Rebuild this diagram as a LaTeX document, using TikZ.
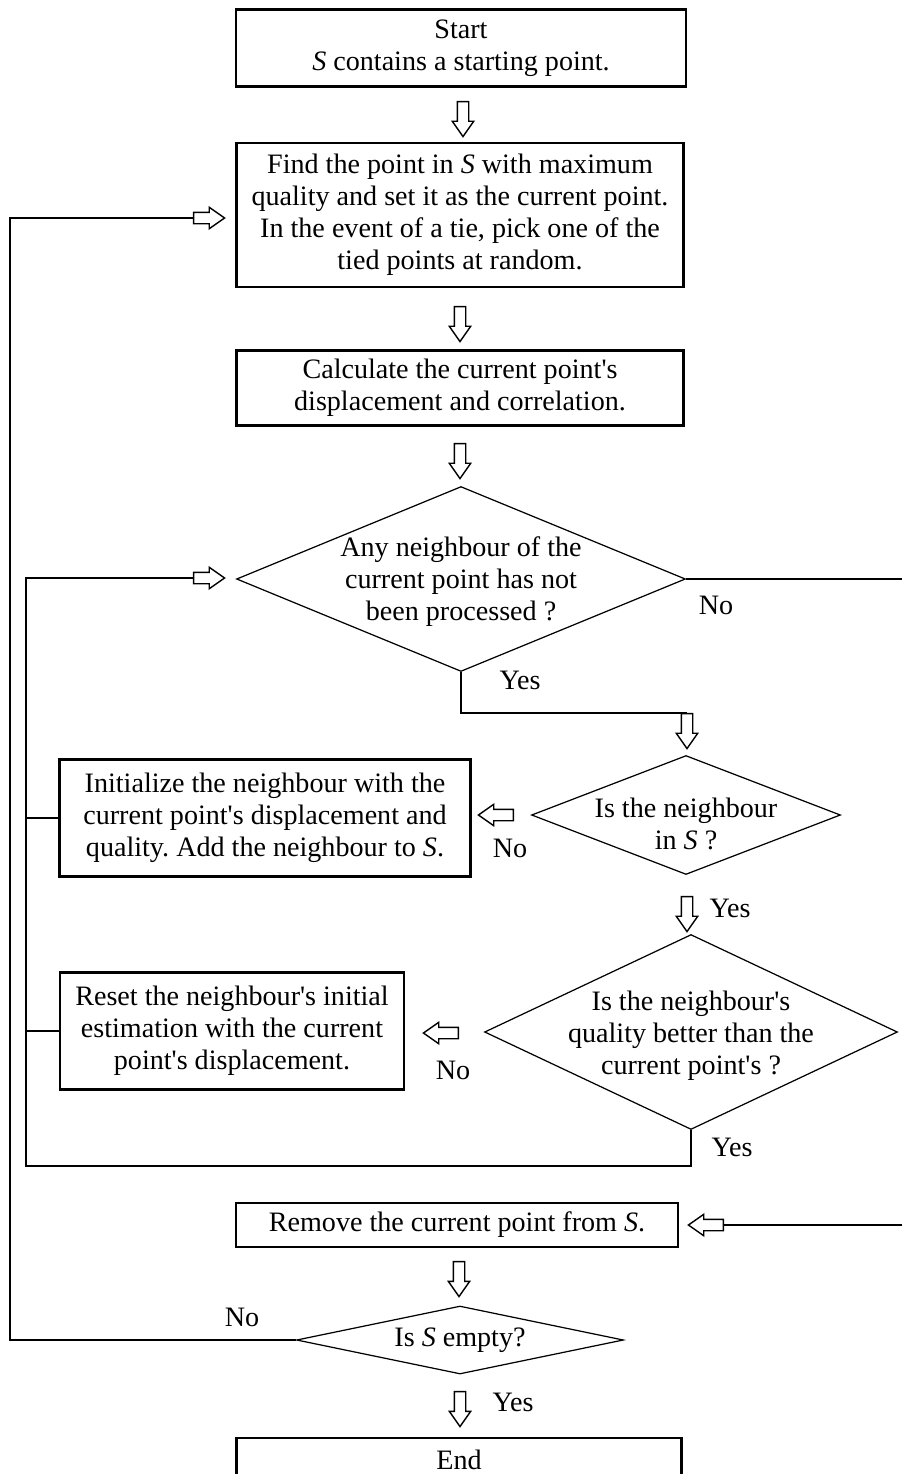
\documentclass[tikz,border=0pt]{standalone}
\usepackage{fontspec}
\setmainfont{Liberation Serif}
\usetikzlibrary{shapes.geometric, shapes.arrows}
\newcommand{\apos}{\textquotesingle}

\begin{document}
\frenchspacing
\begin{tikzpicture}[x=0.02cm, y=-0.02cm,
  procbox/.style={draw, line width=1.4pt, inner sep=0pt, align=center, font=\fontsize{16}{18.2}\selectfont},
  decision/.style={draw, diamond, line width=0.7pt, inner sep=0pt},
  labeltext/.style={font=\fontsize{16}{18.2}\selectfont, align=center, inner sep=1pt},
  hollow/.style={draw, single arrow, line width=0.8pt, inner sep=0.1cm, minimum width=0.4cm, minimum height=0.7cm, single arrow head extend=0.1cm, single arrow tip angle=70},
  link/.style={line width=1pt}
]
\useasboundingbox (0,0) rectangle (902,1474);

%% Main column
\node[procbox, minimum width=9cm, minimum height=1.54cm] (start) at (461,48) {Start\\\textit{S} contains a starting point.};
\node[hollow, shape border rotate=270] (a1) at (463,115) {};
\node[procbox, minimum width=8.94cm, minimum height=2.88cm] (find) at (460,215) {Find the point in \textit{S} with maximum\\quality and set it as the current point.\\In the event of a tie, pick one of the\\tied points at random.};
\node[hollow, shape border rotate=270] (a2) at (460,320) {};
\node[procbox, minimum width=8.94cm, minimum height=1.5cm] (calc) at (460,388) {Calculate the current point\apos s\\displacement and correlation.};
\node[hollow, shape border rotate=270] (a3) at (460,457) {};
\node[decision, minimum width=8.98cm, minimum height=3.7cm] (d1) at (461,579) {};
\node[labeltext] (d1t) at (461,582) {Any neighbour of the\\current point has not\\been processed ?};

%% Neighbour checks
\node[hollow, shape border rotate=270] (a4) at (687,727) {};
\node[decision, minimum width=6.18cm, minimum height=2.38cm] (d2) at (686,815) {};
\node[labeltext] (d2t) at (686,824) {Is the neighbour\\in \textit{S} ?};
\node[hollow, shape border rotate=180] (a5) at (500,815) {};
\node[procbox, minimum width=8.22cm, minimum height=2.34cm] (init) at (265,818) {Initialize the neighbour with the\\current point\apos s displacement and\\quality. Add the neighbour to \textit{S}.};
\node[hollow, shape border rotate=270] (a6) at (687,910) {};
\node[decision, minimum width=8.26cm, minimum height=3.9cm] (d3) at (691,1032) {};
\node[labeltext] (d3t) at (691,1036) {Is the neighbour\apos s\\quality better than the\\current point\apos s ?};
\node[hollow, shape border rotate=180] (a7) at (445,1033) {};
\node[procbox, minimum width=6.88cm, minimum height=2.34cm] (reset) at (232,1031) {Reset the neighbour\apos s initial\\estimation with the current\\point\apos s displacement.};

%% Removal and end
\node[procbox, minimum width=8.84cm, minimum height=0.88cm] (remove) at (457,1225) {Remove the current point from \textit{S}.};
\node[hollow, shape border rotate=180] (a8) at (710,1225) {};
\node[hollow, shape border rotate=270] (a9) at (459,1275) {};
\node[decision, minimum width=6.54cm, minimum height=1.36cm] (d4) at (460,1340) {};
\node[labeltext] (d4t) at (460,1340) {Is \textit{S} empty?};
\node[hollow, shape border rotate=270] (a10) at (460,1405) {};
\node[procbox, minimum width=8.9cm, minimum height=0.88cm] (end) at (459,1460) {End};

%% Loop-back arrows
\node[hollow, minimum height=0.62cm] (r1) at (205,218) {};
\node[hollow, minimum height=0.62cm] (r2) at (205,578) {};

%% Yes / No labels
\node[labeltext] (no1) at (716,605) {No};
\node[labeltext] (yes1) at (520,680) {Yes};
\node[labeltext] (no2) at (510,848) {No};
\node[labeltext] (yes2) at (730,908) {Yes};
\node[labeltext] (no3) at (453,1070) {No};
\node[labeltext] (yes3) at (732,1147) {Yes};
\node[labeltext] (no4) at (242,1317) {No};
\node[labeltext] (yes4) at (513,1402) {Yes};

%% Connectors
\coordinate (outer) at (10,218);
\coordinate (inner) at (26,1166);
\coordinate (rside) at (906,1225);
\draw[link] (d4.west) -| (outer) -- (r1.tail);
\draw[link] (d3.south) |- (inner) |- (r2.tail);
\draw[link] (init.west) -- (init.west -| inner);
\draw[link] (reset.west) -- (reset.west -| inner);
\draw[link, line width=1.4pt] (d1.east) -| (rside) -- (a8.tail);
\draw[link] (d1.south) |- (a4.tail);
\end{tikzpicture}
\end{document}
